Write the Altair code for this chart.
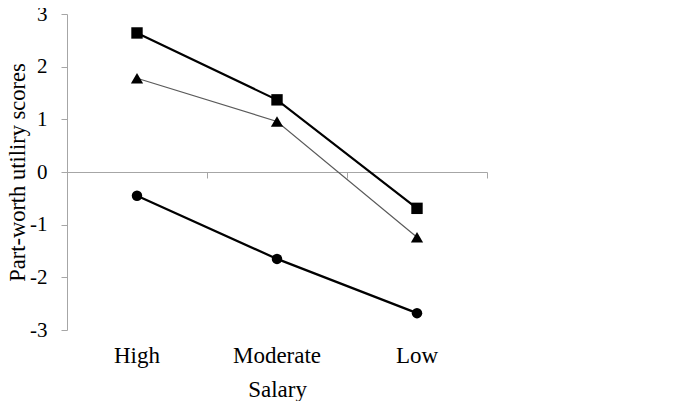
import altair as alt
import pandas as pd

categories = ["High", "Moderate", "Low"]
series = ["A", "B", "C"]
values_a = [2.64, 1.37, -0.69]   # squares, thick line
values_b = [1.78, 0.96, -1.24]   # triangles, thin line
values_c = [-0.45, -1.65, -2.68] # circles, thick line

rows = []
for s, vals in zip(series, [values_a, values_b, values_c]):
    for c, v in zip(categories, vals):
        rows.append({"series": s, "cat": c, "value": v})
df = pd.DataFrame(rows)

FONT = "Liberation Serif"
GRAY = "#a6a6a6"
H = 316

yenc = alt.Y(
    "value:Q",
    scale=alt.Scale(domain=[-3, 3], nice=False, zero=False),
    axis=alt.Axis(
        values=[-3, -2, -1, 0, 1, 2, 3], labelExpr="'' + datum.value", grid=False,
        domainColor=GRAY, tickColor=GRAY, tickSize=6, labelPadding=14,
        labelFont=FONT, labelFontSize=21, labelColor="black",
        title="Part-worth utiliry scores", titleFont=FONT, titleFontSize=22.5,
        titleFontWeight="normal", titleColor="black",
        titleAngle=-90, titleX=-43, titleY=158, titleAlign="center", titleBaseline="alphabetic",
    ),
)

xscale = alt.Scale(type="band", paddingInner=0, paddingOuter=0)

lines = alt.Chart(df).mark_line().encode(
    x=alt.X("cat:N", sort=categories, scale=xscale,
            axis=alt.Axis(orient="bottom", offset=-H / 2, labels=False, title=None,
                          tickBand="extent", ticks=True, tickSize=6,
                          tickColor=GRAY, domainColor=GRAY, grid=False)),
    y=yenc,
    detail="series:N",
    color=alt.Color("series:N", scale=alt.Scale(type="ordinal", domain=series, range=["black", "#5a5a5a", "black"]), legend=None),
    strokeWidth=alt.StrokeWidth("series:N", scale=alt.Scale(type="ordinal", domain=series, range=[2.2, 1.2, 2.2]), legend=None),
)

points = alt.Chart(df).mark_point(filled=True, opacity=1, color="black").encode(
    x=alt.X("cat:N", sort=categories, scale=xscale,
            axis=alt.Axis(orient="bottom", domain=False, ticks=False, tickSize=0,
                          labelPadding=32, labelBaseline="alphabetic", labelAngle=0,
                          labelFont=FONT, labelFontSize=23, labelColor="black",
                          title="Salary", titleFont=FONT, titleFontSize=23,
                          titleFontWeight="normal", titleColor="black",
                          titleY=66, titleBaseline="alphabetic")),
    y=yenc,
    shape=alt.Shape("series:N", scale=alt.Scale(domain=series, range=["square", "triangle-up", "circle"]), legend=None),
    size=alt.Size("series:N", scale=alt.Scale(type="ordinal", domain=series, range=[130, 150, 110]), legend=None),
)

chart = alt.layer(lines, points).resolve_axis(x="independent").properties(
    width=420, height=H,
    autosize=alt.AutoSizeParams(type="none"),
    padding={"left": 59, "top": 6, "right": 180, "bottom": 71},
).configure_view(stroke=None)

chart.save("out.html", embed_options={"renderer": "svg", "actions": False})
